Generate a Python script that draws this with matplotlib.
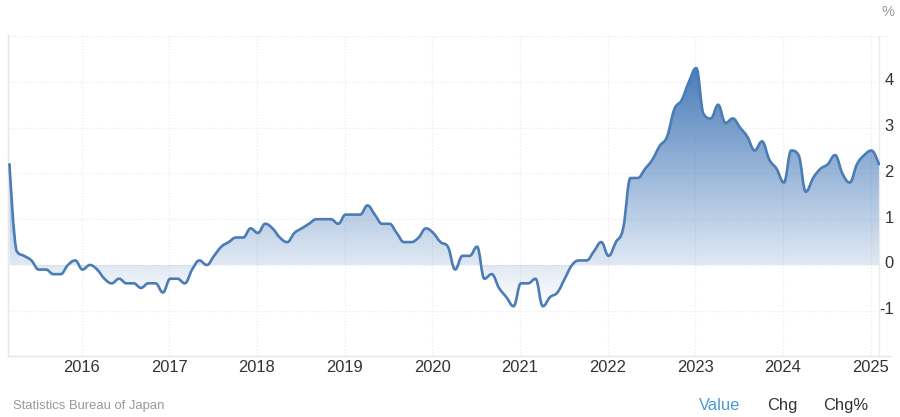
import numpy as np
import matplotlib
matplotlib.use("Agg")
import matplotlib.pyplot as plt
from matplotlib.path import Path
from matplotlib.patches import PathPatch
from matplotlib.colors import LinearSegmentedColormap
from matplotlib.transforms import ScaledTranslation

plt.rcParams['font.family'] = ['Liberation Sans', 'DejaVu Sans']

START_YEAR = 2015
START_MONTH = 3  # first reading: March 2015
values = [
    2.2, 0.3, 0.2, 0.1, -0.1, -0.1, -0.2, -0.2, 0.0, 0.1,
    -0.1, 0.0, -0.1, -0.3, -0.4, -0.3, -0.4, -0.4, -0.5, -0.4, -0.4, -0.6,
    -0.3, -0.3, -0.4, -0.1, 0.1, 0.0, 0.2, 0.4, 0.5, 0.6, 0.6, 0.8,
    0.7, 0.9, 0.8, 0.6, 0.5, 0.7, 0.8, 0.9, 1.0, 1.0, 1.0, 0.9,
    1.1, 1.1, 1.1, 1.3, 1.1, 0.9, 0.9, 0.7, 0.5, 0.5, 0.6, 0.8,
    0.7, 0.5, 0.4, -0.1, 0.2, 0.2, 0.4, -0.3, -0.2, -0.5, -0.7, -0.9,
    -0.4, -0.4, -0.3, -0.9, -0.7, -0.6, -0.3, 0.0, 0.1, 0.1, 0.3, 0.5,
    0.2, 0.5, 0.8, 1.9, 1.9, 2.1, 2.3, 2.6, 2.8, 3.4, 3.6, 4.0,
    4.3, 3.3, 3.2, 3.5, 3.1, 3.2, 3.0, 2.8, 2.5, 2.7, 2.3, 2.1,
    1.8, 2.5, 2.4, 1.6, 1.9, 2.1, 2.2, 2.4, 2.0, 1.8, 2.2, 2.4,
    2.5, 2.2,
]
year_ticks = [2016, 2017, 2018, 2019, 2020, 2021, 2022, 2023, 2024, 2025]
y_ticks = [-1, 0, 1, 2, 3, 4]
grid_levels = [-1, 0, 1, 2, 3, 4, 5]
source = "Statistics Bureau of Japan"
unit = "%"
tabs = ["Value", "Chg", "Chg%"]

W, H = 900, 417
fig = plt.figure(figsize=(W / 100, H / 100), dpi=100, facecolor="white")
L, R, T, B = 8, 890, 35.5, 355.5
ax = fig.add_axes([L / W, 1 - B / H, (R - L) / W, (B - T) / H])
ax.patch.set_alpha(0)

x = START_YEAR + (START_MONTH - 1 + np.arange(len(values))) / 12 + 0.012
y = np.array(values, dtype=float)
xlim = (2016 - (81.5 - L) / 87.67, 2016 + (R - 81.5) / 87.67)
ylim = ((265 - B) / 45.8, (265 - T) / 45.8)


def spline_controls(px, py, smoothing=1.5):
    """Bezier control points in the style of a Highcharts spline."""
    n = len(px)
    lx, ly, rx, ry = px.copy(), py.copy(), px.copy(), py.copy()
    den = smoothing + 1
    for i in range(1, n - 1):
        a = (smoothing * px[i] + px[i - 1]) / den
        b = (smoothing * py[i] + py[i - 1]) / den
        c = (smoothing * px[i] + px[i + 1]) / den
        d = (smoothing * py[i] + py[i + 1]) / den
        corr = (d - b) * (c - px[i]) / (c - a) + py[i] - d
        b += corr
        d += corr
        if b > py[i - 1] and b > py[i]:
            b = max(py[i - 1], py[i]); d = 2 * py[i] - b
        elif b < py[i - 1] and b < py[i]:
            b = min(py[i - 1], py[i]); d = 2 * py[i] - b
        if d > py[i + 1] and d > py[i]:
            d = max(py[i + 1], py[i]); b = 2 * py[i] - d
        elif d < py[i + 1] and d < py[i]:
            d = min(py[i + 1], py[i]); b = 2 * py[i] - d
        lx[i], ly[i], rx[i], ry[i] = a, b, c, d
    return lx, ly, rx, ry


lx, ly, rx, ry = spline_controls(x, y)
verts = [(x[0], y[0])]
codes = [Path.MOVETO]
for i in range(1, len(x)):
    verts += [(rx[i - 1], ry[i - 1]), (lx[i], ly[i]), (x[i], y[i])]
    codes += [Path.CURVE4] * 3
line_path = Path(verts, codes)
area_path = Path(verts + [(x[-1], 0), (x[0], 0), (x[0], y[0])],
                 codes + [Path.LINETO, Path.LINETO, Path.CLOSEPOLY])

# grid
grid_col = "#ebebeb"
for g in grid_levels:
    ax.axhline(g, color=grid_col, lw=0.9, ls=(0, (1, 1.5)), zorder=1)
for t in year_ticks + [x[-1]]:
    ax.axvline(t, color=grid_col, lw=0.9, ls=(0, (1, 1.5)) if t != x[-1] else "-", zorder=1)

# gradient area
cmap = LinearSegmentedColormap.from_list(
    "fade", [(0.29, 0.49, 0.73, 1.0), (0.29, 0.49, 0.73, 0.0)])
grad = np.linspace(0, 1, 256).reshape(-1, 1)
im = ax.imshow(grad, cmap=cmap, extent=(x[0], x[-1], y.min(), y.max()),
               aspect="auto", origin="upper", zorder=2, interpolation="bilinear")
patch = PathPatch(area_path, transform=ax.transData, facecolor="none", edgecolor="none")
ax.add_patch(patch)
im.set_clip_path(patch)

# line
ax.add_patch(PathPatch(line_path, facecolor="none", edgecolor="#4a7cb5", lw=1.9,
                       capstyle="round", joinstyle="round", zorder=3))

ax.set_xlim(xlim)
ax.set_ylim(ylim)

for s in ax.spines.values():
    s.set_visible(False)
for side in ("bottom", "left"):
    ax.spines[side].set_visible(True)
    ax.spines[side].set_color("#e6e6e6")
    ax.spines[side].set_linewidth(1.0)

ax.set_xticks(year_ticks)
ax.set_xticklabels([str(t) for t in year_ticks], fontsize=11.9, color="#333333")
ax.tick_params(axis="x", length=0, pad=3.5)
ax.yaxis.tick_right()
ax.set_yticks(y_ticks)
ax.set_yticklabels([str(t) for t in y_ticks], fontsize=11.9, color="#333333")
ax.tick_params(axis="y", length=0, pad=2.5)
lift = ScaledTranslation(0, 2.5 / 72 * 0.72, fig.dpi_scale_trans)
for lab in ax.get_yticklabels():
    lab.set_horizontalalignment("right")
    lab.set_transform(lab.get_transform() + lift)

fig.text(882 / W, 1 - 12 / H, unit, fontsize=10.5, color="#999999", ha="left", va="center")
fig.text(13 / W, 1 - 406 / H, source, fontsize=9.35, color="#999999", ha="left", va="center")
fig.text(699 / W, 1 - 405.5 / H, tabs[0], fontsize=11.9, color="#4c9ad4", ha="left", va="center")
fig.text(767 / W, 1 - 405.5 / H, tabs[1], fontsize=11.9, color="#333333", ha="left", va="center")
fig.text(823 / W, 1 - 405.5 / H, tabs[2], fontsize=11.9, color="#333333", ha="left", va="center")

fig.savefig("out.png", dpi=100)
